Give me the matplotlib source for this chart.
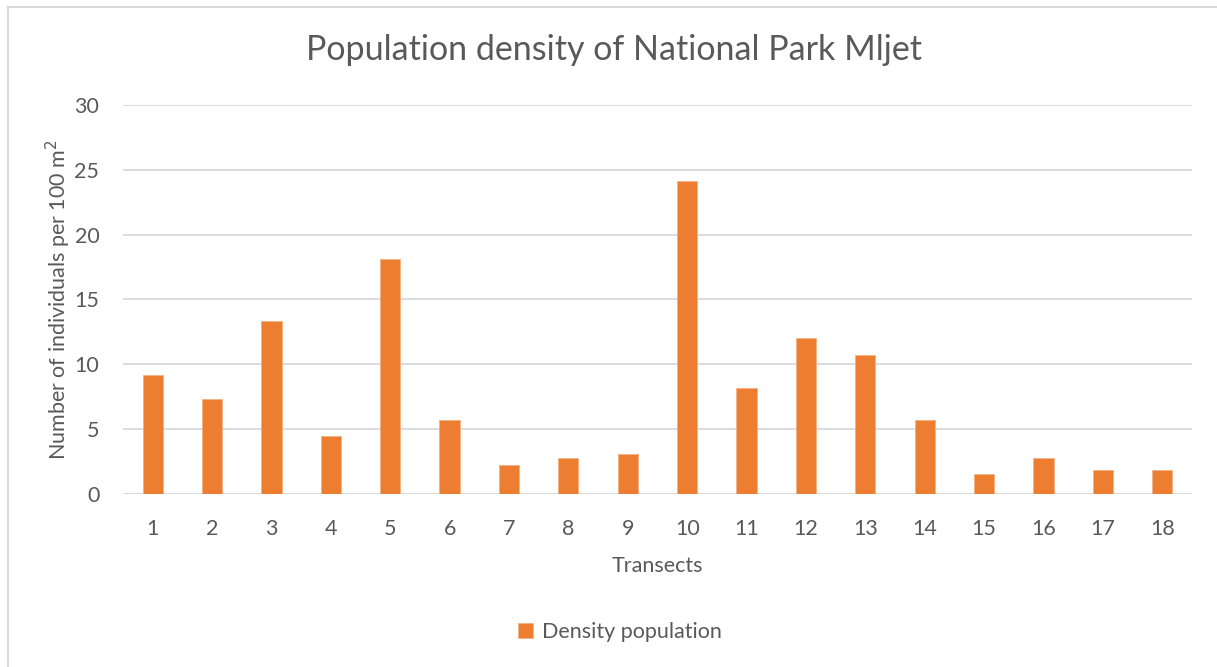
import matplotlib.pyplot as plt
from matplotlib.lines import Line2D

transects = [str(i) for i in range(1, 19)]
density = [9.2, 7.3, 13.35, 4.45, 18.1, 5.7, 2.2, 2.8, 3.1, 24.15,
           8.2, 12.0, 10.75, 5.7, 1.55, 2.8, 1.85, 1.85]

plt.rcParams['font.family'] = ['Lato', 'DejaVu Sans']
grey = '#595959'
fs = 15.5

fig = plt.figure(figsize=(12.17, 6.67), dpi=100)
ax = fig.add_axes([0.101, 0.2594, 0.8785, 0.5832])

x = range(len(transects))
ax.bar(x, density, width=0.34, color='#ED7D31', edgecolor='#F4B183',
       linewidth=0.6, label='Density population', zorder=3)

ax.set_xlim(-0.5, len(transects) - 0.5)
ax.set_ylim(0, 30)
ax.set_yticks(range(0, 31, 5))
ax.set_xticks(list(x))
ax.set_xticklabels(transects)
ax.yaxis.grid(True, color='#D9D9D9', linewidth=1.3, zorder=0)
for s in ax.spines.values():
    s.set_visible(False)
ax.axhline(0, color='#D9D9D9', linewidth=1.3, zorder=1)
ax.tick_params(length=0, labelsize=fs, colors=grey)
ax.tick_params(axis='x', pad=18)
ax.tick_params(axis='y', pad=17)

fig.text(614 / 1217, 1 - 50 / 667, 'Population density of National Park Mljet',
         fontsize=24.5, color=grey, ha='center', va='center')
ax.set_xlabel('Transects', fontsize=fs, color=grey, labelpad=12)
ax.set_ylabel('Number of individuals per 100 m$^{2}$', fontsize=fs,
              color=grey, labelpad=1)

ax.legend(loc='center', bbox_to_anchor=(0.465, -0.355), frameon=False,
          fontsize=fs, labelcolor=grey, handlelength=0.7, handleheight=0.7,
          handletextpad=0.4)

# chart area border (left and top only visible)
fig.add_artist(Line2D([7.5 / 1217, 7.5 / 1217], [0, 1 - 6.5 / 667],
                      color='#D9D9D9', linewidth=1.5))
fig.add_artist(Line2D([7.5 / 1217, 1], [1 - 6.5 / 667, 1 - 6.5 / 667],
                      color='#D9D9D9', linewidth=1.5))

fig.savefig('out.png', dpi=100)
